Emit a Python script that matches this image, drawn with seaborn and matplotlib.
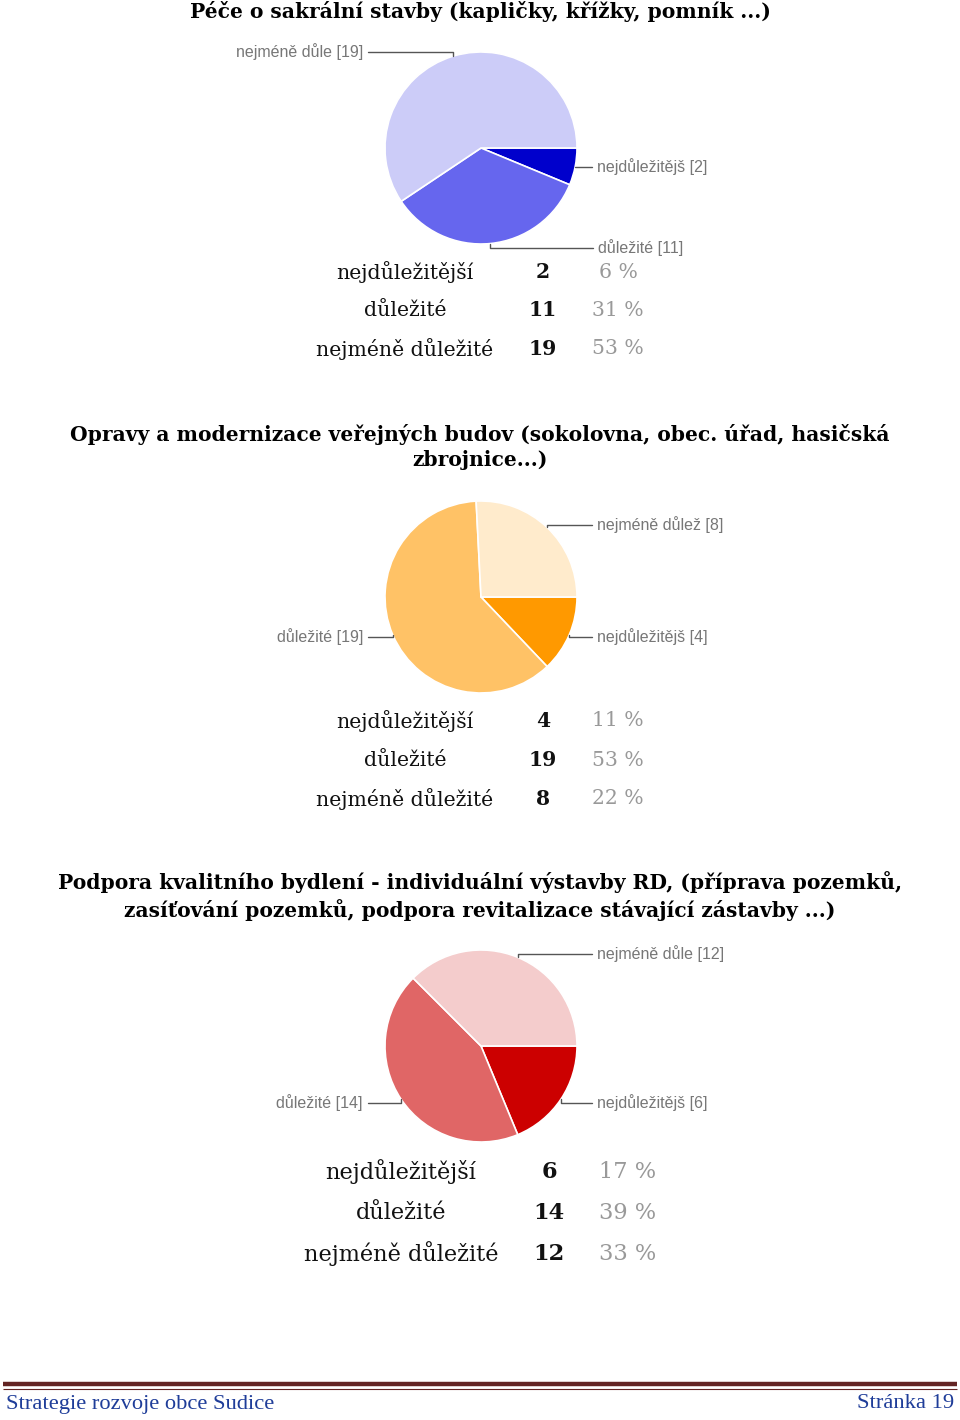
import numpy as np
import matplotlib
matplotlib.use("Agg")
import matplotlib.pyplot as plt
import seaborn as sns

sns.set_theme(style="white")
plt.rcParams['font.family'] = ['DejaVu Serif']

# data
categories = ["nejdůležitější", "důležité", "nejméně důležité"]
titles = [
    "Péče o sakrální stavby (kapličky, křížky, pomník ...)",
    "Opravy a modernizace veřejných budov (sokolovna, obec. úřad, hasičská\nzbrojnice...)",
    "Podpora kvalitního bydlení - individuální výstavby RD, (příprava pozemků,\nzasíťování pozemků, podpora revitalizace stávající zástavby ...)",
]
counts1 = [2, 11, 19]
counts2 = [4, 19, 8]
counts3 = [6, 14, 12]
pct1 = [6, 31, 53]
pct2 = [11, 53, 22]
pct3 = [17, 39, 33]
short1 = ["nejdůležitějš", "důležité", "nejméně důle"]
short2 = ["nejdůležitějš", "důležité", "nejméně důlež"]
short3 = ["nejdůležitějš", "důležité", "nejméně důle"]
colors1 = ["#0000cc", "#6666ee", "#ccccf8"]
colors2 = ["#ff9900", "#ffc266", "#ffebcc"]
colors3 = ["#cc0000", "#e06666", "#f4cccc"]

W, H = 960, 1420
fig = plt.figure(figsize=(W / 100, H / 100), dpi=100)
ax = fig.add_axes([0, 0, 1, 1])
ax.set_xlim(0, W)
ax.set_ylim(0, H)
ax.axis("off")


def Y(y):
    return H - y


charts = [
    dict(counts=counts1, pct=pct1, short=short1, colors=colors1, title=titles[0],
         title_y=12, cy=148,
         label_pos=[(597, 167, "left"), (598, 248, "left"), (363, 52, "right")],
         rows=[272, 310, 349], cols=(405, 543, 618), fs=14.7),
    dict(counts=counts2, pct=pct2, short=short2, colors=colors2, title=titles[1],
         title_y=447, cy=597,
         label_pos=[(597, 637, "left"), (363, 637, "right"), (597, 525, "left")],
         rows=[721, 760, 799], cols=(405, 543, 618), fs=14.7),
    dict(counts=counts3, pct=pct3, short=short3, colors=colors3, title=titles[2],
         title_y=896, cy=1046,
         label_pos=[(597, 1103, "left"), (363, 1103, "right"), (597, 954, "left")],
         rows=[1172, 1213, 1254], cols=(401, 549, 628), fs=16.2),
]

R = 96
CX = 481
for ch in charts:
    ax.text(480, Y(ch["title_y"]), ch["title"], ha="center", va="center",
            fontsize=14.6, fontweight="bold", linespacing=1.35, color="black")
    wedges, _ = ax.pie(ch["counts"], colors=ch["colors"], startangle=0, counterclock=False,
                       center=(CX, Y(ch["cy"])), radius=R,
                       wedgeprops=dict(edgecolor="white", linewidth=1.2))
    for w, name, n, (tx, ty, side) in zip(wedges, ch["short"], ch["counts"], ch["label_pos"]):
        mid = np.deg2rad((w.theta1 + w.theta2) / 2)
        px = CX + R * np.cos(mid)
        py = Y(ch["cy"]) + R * np.sin(mid)
        ax.annotate(f"{name} [{n}]", xy=(px, py), xytext=(tx, Y(ty)),
                    ha=side, va="center", fontsize=11.5, color="#777777",
                    family="Liberation Sans",
                    arrowprops=dict(arrowstyle="-", color="#555555", lw=1,
                                    shrinkA=1, shrinkB=0,
                                    connectionstyle="angle,angleA=0,angleB=90,rad=0"))
    c1, c2, c3 = ch["cols"]
    for cat, n, p, ry in zip(categories, ch["counts"], ch["pct"], ch["rows"]):
        ax.text(c1, Y(ry), cat, ha="center", va="center", fontsize=ch["fs"], color="#111111")
        ax.text(c2, Y(ry), str(n), ha="center", va="center", fontsize=ch["fs"],
                fontweight="bold", color="#111111")
        ax.text(c3, Y(ry), f"{p} %", ha="center", va="center", fontsize=ch["fs"], color="#999999")

# footer
ax.plot([3, 957], [Y(1384), Y(1384)], color="#622423", lw=3.2, solid_capstyle="butt")
ax.plot([3, 957], [Y(1389), Y(1389)], color="#622423", lw=0.8, solid_capstyle="butt")
ax.text(6, Y(1404), "Strategie rozvoje obce Sudice", ha="left", va="center",
        fontsize=16.2, color="#1f3d99", family="Liberation Serif")
ax.text(954, Y(1404), "Stránka 19", ha="right", va="center",
        fontsize=16.2, color="#1f3d99", family="Liberation Serif")

ax.set_xlim(0, W)
ax.set_ylim(0, H)
fig.savefig("out.png", dpi=100, facecolor="white")
